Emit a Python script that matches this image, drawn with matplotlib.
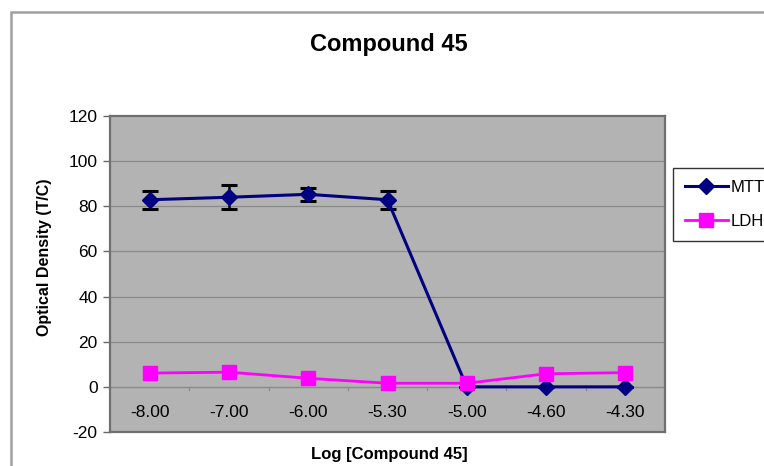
import matplotlib
matplotlib.use("Agg")
import matplotlib.pyplot as plt
from matplotlib.patches import Rectangle
from matplotlib.lines import Line2D
import numpy as np

categories = ["-8.00", "-7.00", "-6.00", "-5.30", "-5.00", "-4.60", "-4.30"]
mtt = [82.9, 84.0, 85.3, 82.9, 0.0, 0.0, 0.0]
mtt_err = [4.0, 5.4, 3.0, 4.0, 0.0, 0.0, 0.0]
ldh = [6.1, 6.5, 3.8, 1.6, 1.6, 5.8, 6.3]
yticks = [-20, 0, 20, 40, 60, 80, 100, 120]

plt.rcParams['font.family'] = ['Liberation Sans', 'DejaVu Sans']

fig = plt.figure(figsize=(7.64, 4.66), dpi=100)
W, H = 764, 466
ax = fig.add_axes([110 / W, 1 - 432 / H, 555 / W, 316 / H])

# outer chart border (extends past the canvas)
fig.patches.append(Rectangle((11 / W, -0.2), 1.2, 1 - 12 / H + 0.2, transform=fig.transFigure,
                             fill=False, edgecolor='#a0a0a0', linewidth=1.8, zorder=0))

x = np.arange(len(categories))
ax.set_facecolor('#b3b3b3')
ax.set_xlim(-0.5, len(categories) - 0.5)
ax.set_ylim(-20, 120)

for yv in yticks:
    if yv not in (-20, 0, 120):
        ax.axhline(yv, color='#8a8a8a', linewidth=0.9, zorder=1)

# x axis at y=0
ax.axhline(0, color='#8a8a8a', linewidth=1.0, zorder=1)
for b in np.arange(0.5, len(categories) - 0.5, 1.0):
    ax.plot([b, b], [0, -1.6], color='#8a8a8a', linewidth=0.9, zorder=1)
for xi, lab in zip(x, categories):
    ax.text(xi, -11.5, lab, ha='center', va='center', fontsize=12.5, color='black')

ax.errorbar(x, mtt, yerr=mtt_err, color='#000080', linewidth=2.2, marker='D',
            markersize=8, ecolor='black', elinewidth=1.8, capsize=6, capthick=2.2,
            zorder=3, label='MTT')
ax.plot(x, ldh, color='#ff00ff', linewidth=2, marker='s', markersize=9.5,
        zorder=4, label='LDH')

ax.set_xticks([])
ax.set_yticks(yticks)
ax.set_yticklabels([str(v) for v in yticks], fontsize=12.5)
ax.tick_params(axis='y', length=5, width=1, color='#666666', pad=4)
for s in ax.spines.values():
    s.set_color('#707070')
    s.set_linewidth(1.6)

ax.set_ylabel('Optical Density (T/C)', fontsize=11.5, fontweight='bold')
ax.yaxis.set_label_coords(-0.105, 0.554)

fig.text(389 / W, 1 - 454 / H, 'Log [Compound 45]', ha='center', va='center',
         fontsize=12, fontweight='bold')

fig.text(389 / W, 1 - 44 / H, 'Compound 45', ha='center', va='center',
         fontsize=17, fontweight='bold')

handles = [Line2D([], [], color='#000080', marker='D', markersize=8, linewidth=2.2),
           Line2D([], [], color='#ff00ff', marker='s', markersize=9.5, linewidth=2)]
leg = fig.legend(handles, ['MTT', 'LDH'], loc='upper left',
                 bbox_to_anchor=(673 / W, 1 - 168 / H), borderaxespad=0, fontsize=12,
                 frameon=True, fancybox=False, edgecolor='black',
                 borderpad=0.7, handlelength=2.6, handletextpad=0.15, labelspacing=1.15)
leg.get_frame().set_linewidth(1.0)

fig.savefig('out.png', dpi=100)
